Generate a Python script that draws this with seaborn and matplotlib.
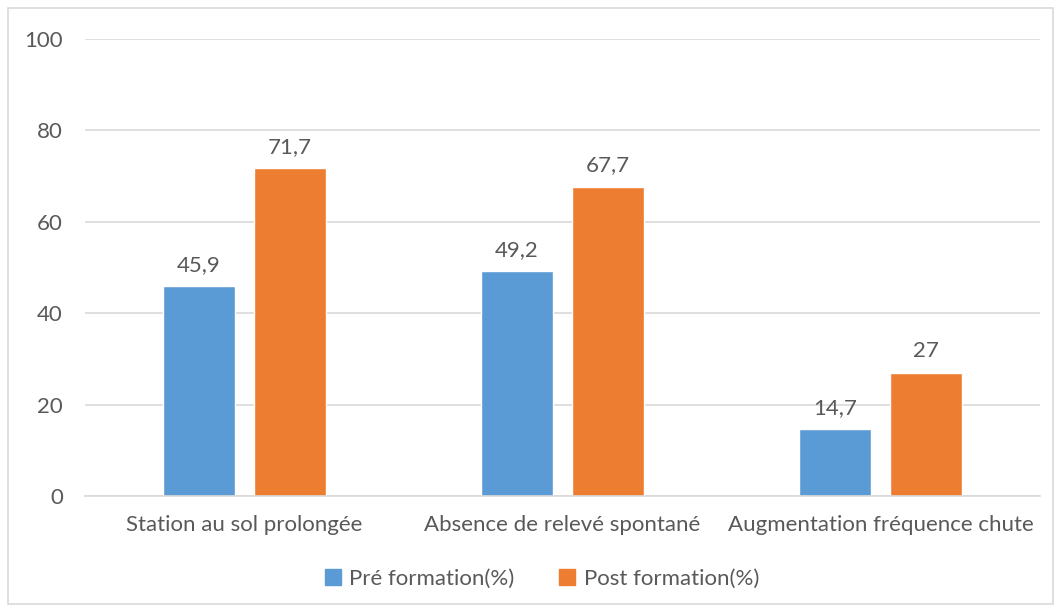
import matplotlib
matplotlib.use("Agg")
import matplotlib.pyplot as plt
import seaborn as sns
import pandas as pd
from matplotlib.patches import Rectangle

categories = ["Station au sol prolongée", "Absence de relevé spontané", "Augmentation fréquence chute"]
series_names = ["Pré formation(%)", "Post formation(%)"]
pre_values = [45.9, 49.2, 14.7]
post_values = [71.7, 67.7, 27]
value_labels_pre = ["45,9", "49,2", "14,7"]
value_labels_post = ["71,7", "67,7", "27"]
y_ticks = [0, 20, 40, 60, 80, 100]

colors = ["#5B9BD5", "#ED7D31"]
text_color = "#595959"

sns.set_theme(style="white")
plt.rcParams["font.family"] = ["Lato", "DejaVu Sans"]

df = pd.DataFrame({
    "cat": categories * 2,
    "serie": [series_names[0]] * 3 + [series_names[1]] * 3,
    "val": pre_values + post_values,
})

fig = plt.figure(figsize=(10.61, 6.12), dpi=100)
ax = fig.add_axes([85 / 1061, 1 - 496 / 612, (1040 - 85) / 1061, (496 - 39) / 612])

sns.barplot(data=df, x="cat", y="val", hue="serie", palette=colors,
            width=0.572, gap=0.21, ax=ax, legend=False, errorbar=None,
            saturation=1)

ax.set_ylim(0, 100)
ax.set_yticks(y_ticks)
ax.set_yticklabels([str(t) for t in y_ticks])
ax.set_xlim(-0.5, 2.5)
ax.yaxis.grid(True, color="#D9D9D9", linewidth=1.2)
ax.set_axisbelow(True)
for s in ["top", "right", "left"]:
    ax.spines[s].set_visible(False)
ax.spines["bottom"].set_color("#D9D9D9")
ax.spines["bottom"].set_linewidth(1.2)
ax.set_xlabel("")
ax.set_ylabel("")
ax.tick_params(axis="both", length=0, labelsize=16, labelcolor=text_color)
ax.tick_params(axis="y", pad=16)
ax.tick_params(axis="x", pad=14)

for cont, labs in zip(ax.containers, [value_labels_pre, value_labels_post]):
    ax.bar_label(cont, labels=labs, padding=8, fontsize=16, color=text_color)

handles = [Rectangle((0, 0), 1, 1, color=c) for c in colors]
fig.legend(handles, series_names, loc="center", bbox_to_anchor=(542 / 1061, 1 - 579 / 612),
           ncol=2, frameon=False, fontsize=16, labelcolor=text_color,
           handlelength=0.7, handleheight=0.7, handletextpad=0.4, columnspacing=2.0)

fig.patches.append(Rectangle((8 / 1061, 8 / 612), 1045 / 1061, 596 / 612,
                             transform=fig.transFigure, fill=False,
                             edgecolor="#D9D9D9", linewidth=1.2))

fig.savefig("out.png", dpi=100)
